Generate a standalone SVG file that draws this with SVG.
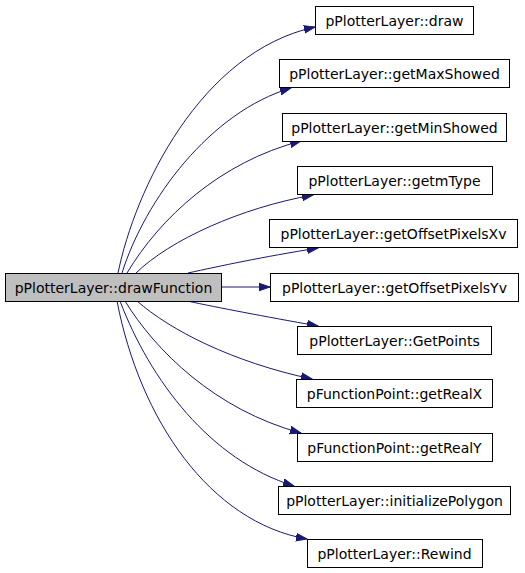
<svg xmlns="http://www.w3.org/2000/svg" width="525" height="573" viewBox="0 0 525 573">
<style>
.box{fill:#ffffff;stroke:#000000;stroke-width:1}
.src{fill:#bfbfbf;stroke:#000000;stroke-width:1}
.lbl{font-family:"DejaVu Sans",sans-serif;font-size:14px;text-anchor:middle;fill:#000000}
.edge{fill:none;stroke:#191970;stroke-width:1;marker-end:url(#arr)}
</style>
<defs>
<marker id="arr" markerUnits="userSpaceOnUse" markerWidth="12" markerHeight="10" viewBox="0 -5 12 10" refX="11" refY="0" orient="auto">
<polygon points="0,-3.8 11,0 0,3.8" fill="#191970" stroke="#191970" stroke-width="1"/>
</marker>
</defs>
<g id="edges">
<path class="edge" d="M118,273 C135,190 200,52 315,27"/>
<path class="edge" d="M122,273 C145,200 210,112 291,88"/>
<path class="edge" d="M127,273 C160,218 220,162 301,141"/>
<path class="edge" d="M136,273 C170,240 240,208 313,195"/>
<path class="edge" d="M188,273 C220,266 262,257 318,248"/>
<path class="edge" d="M221,287 L270,287"/>
<path class="edge" d="M187,301 C220,308 262,316 318,326"/>
<path class="edge" d="M137,301 C170,330 232,362 312,379"/>
<path class="edge" d="M125,301 C155,350 215,410 301,433"/>
<path class="edge" d="M120,301 C150,380 210,460 294,486"/>
<path class="edge" d="M117,301 C140,420 210,522 307,539"/>
</g>
<g id="n_drawFunction"><rect class="src" x="5.5" y="273.5" width="216" height="28"/><text class="lbl" x="113.5" y="292.5">pPlotterLayer::drawFunction</text></g>
<g id="n_draw"><rect class="box" x="315.5" y="6.5" width="158" height="28"/><text class="lbl" x="394.5" y="25.5">pPlotterLayer::draw</text></g>
<g id="n_getMaxShowed"><rect class="box" x="279.5" y="59.5" width="230" height="28"/><text class="lbl" x="394.5" y="78.5">pPlotterLayer::getMaxShowed</text></g>
<g id="n_getMinShowed"><rect class="box" x="282.5" y="113.5" width="224" height="28"/><text class="lbl" x="394.5" y="132.5">pPlotterLayer::getMinShowed</text></g>
<g id="n_getmType"><rect class="box" x="297.5" y="166.5" width="195" height="28"/><text class="lbl" x="394.5" y="185.5">pPlotterLayer::getmType</text></g>
<g id="n_getOffsetPixelsXv"><rect class="box" x="269.5" y="219.5" width="248" height="28"/><text class="lbl" x="393.5" y="238.5">pPlotterLayer::getOffsetPixelsXv</text></g>
<g id="n_getOffsetPixelsYv"><rect class="box" x="270.5" y="273.5" width="248" height="28"/><text class="lbl" x="394.5" y="292.5">pPlotterLayer::getOffsetPixelsYv</text></g>
<g id="n_GetPoints"><rect class="box" x="297.5" y="326.5" width="194" height="28"/><text class="lbl" x="394.5" y="345.5">pPlotterLayer::GetPoints</text></g>
<g id="n_getRealX"><rect class="box" x="296.5" y="379.5" width="196" height="28"/><text class="lbl" x="394.5" y="398.5">pFunctionPoint::getRealX</text></g>
<g id="n_getRealY"><rect class="box" x="297.5" y="433.5" width="195" height="28"/><text class="lbl" x="394.5" y="452.5">pFunctionPoint::getRealY</text></g>
<g id="n_initializePolygon"><rect class="box" x="278.5" y="486.5" width="232" height="28"/><text class="lbl" x="394.5" y="505.5">pPlotterLayer::initializePolygon</text></g>
<g id="n_Rewind"><rect class="box" x="307.5" y="539.5" width="175" height="28"/><text class="lbl" x="394.5" y="558.5">pPlotterLayer::Rewind</text></g>
</svg>
